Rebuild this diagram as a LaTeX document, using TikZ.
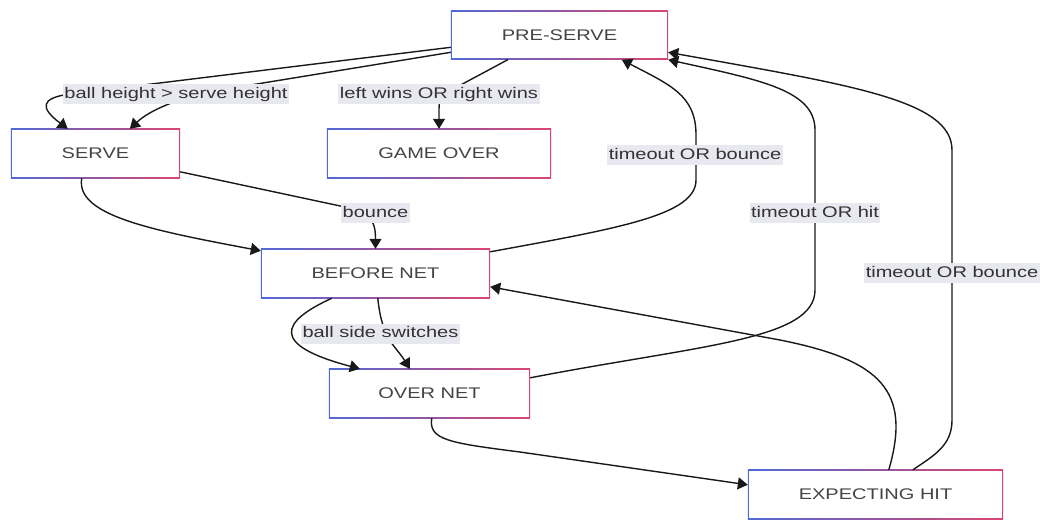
\documentclass[tikz,border=0pt]{standalone}
\usepackage{fontspec}
\setmainfont{Liberation Sans}
\usepackage{graphicx}
\usetikzlibrary{arrows.meta,backgrounds,calc}
\definecolor{bl}{RGB}{80,105,215}
\definecolor{rd}{RGB}{218,70,110}
\definecolor{lblbg}{RGB}{232,232,240}
\definecolor{ntext}{RGB}{68,68,68}
\definecolor{ltext}{RGB}{50,50,50}
\newcommand{\wt}[1]{\scalebox{1.3}[1]{#1}}
\begin{document}
\begin{tikzpicture}[x=1pt,y=-1pt,
  state/.style={inner sep=0pt, text=ntext, font=\fontsize{15.4}{18}\selectfont, minimum height=49pt},
  lbl/.style={fill=lblbg, text=ltext, inner xsep=1.5pt, inner ysep=2.5pt, text height=11.5pt, text depth=3.5pt, font=\fontsize{15.4}{18}\selectfont},
  conn/.style={line width=1.4pt, black!90},
  arr/.style={conn, -{Triangle[length=10pt,width=12pt]}}]
\useasboundingbox (0,0) rectangle (1040,523);
% states
\node[state, minimum width=217pt] (pre) at (559.5,35) {\wt{PRE-SERVE}};
\node[state, minimum width=169pt] (serve) at (95.5,153.5) {\wt{SERVE}};
\node[state, minimum width=224pt] (gameover) at (439,153.5) {\wt{GAME OVER}};
\node[state, minimum width=229pt] (before) at (375.5,273.5) {\wt{BEFORE NET}};
\node[state, minimum width=201pt] (over) at (429.5,393.5) {\wt{OVER NET}};
\node[state, minimum width=255pt] (exp) at (875.5,494.5) {\wt{EXPECTING HIT}};
\begin{scope}[on background layer]
\foreach \n in {pre,serve,gameover,before,over,exp}{
  \shade[left color=bl, right color=rd] (\n.south west) rectangle (\n.north east);
  \fill[white] ([shift={(1.6pt,1.6pt)}]\n.south west) rectangle ([shift={(-1.6pt,-1.6pt)}]\n.north east);
}
\end{scope}
% connectors
\draw[arr] ($(pre.north west)+(0,37)$) -- (70,94) .. controls (40,98) and (40,108) .. ($(serve.north west)+(57,0)$);
\draw[arr] ($(pre.north west)+(0,42)$) -- (220,90) .. controls (180,97) and (150,110) .. ($(serve.north west)+(119,0)$);
\draw[arr] ($(pre.south west)+(57,0)$) -- (455,88) .. controls (440,96) and (439,100) .. (439,110) -- (gameover.north);
\draw[arr] ($(serve.south west)+(71,0)$) .. controls (75,215) and (150,230) .. ($(before.north west)+(0,2)$);
\draw[arr] ($(serve.north east)+(0,43)$) -- (345,207) .. controls (370,212) and (375.5,220) .. (before.north);
\draw[arr] ($(before.north east)+(0,3)$) .. controls (620,228) and (696,215) .. (696,180) -- (696,135) .. controls (696,95) and (670,85) .. ($(pre.south west)+(171,0)$);
\draw[arr] ($(over.north east)+(0,9)$) .. controls (700,345) and (815,340) .. (815,290) -- (815,130) .. controls (815,90) and (760,80) .. (pre.south east);
\draw[arr] ($(exp.north west)+(165,0)$) .. controls (935,455) and (952,445) .. (952,420) -- (952,150) .. controls (952,100) and (850,85) .. ($(pre.north east)+(0,42)$);
\draw[arr] ($(exp.north west)+(141,0)$) .. controls (912,390) and (880,360) .. (780,340) -- ($(before.north east)+(0,38)$);
\draw[arr] ($(before.south west)+(71,0)$) .. controls (280,322) and (270,345) .. ($(over.north west)+(31,0)$);
\draw[arr] ($(before.south west)+(117,0)$) .. controls (382,340) and (395,345) .. ($(over.north west)+(81,0)$);
\draw[arr] ($(over.south west)+(103,0)$) .. controls (428,440) and (450,443) .. (520,452) -- ($(exp.north west)+(0,15)$);
% labels
\node[lbl] (l1) at (176,94) {\wt{ball height > serve height}};
\node[lbl] (l2) at (439,94) {\wt{left wins OR right wins}};
\node[lbl] (l3) at (375.5,213) {\wt{bounce}};
\node[lbl] (l4) at (695,155) {\wt{timeout OR bounce}};
\node[lbl] (l5) at (815,213) {\wt{timeout OR hit}};
\node[lbl] (l6) at (952,273) {\wt{timeout OR bounce}};
\node[lbl] (l7) at (380.5,333.5) {\wt{ball side switches}};
\end{tikzpicture}
\end{document}
